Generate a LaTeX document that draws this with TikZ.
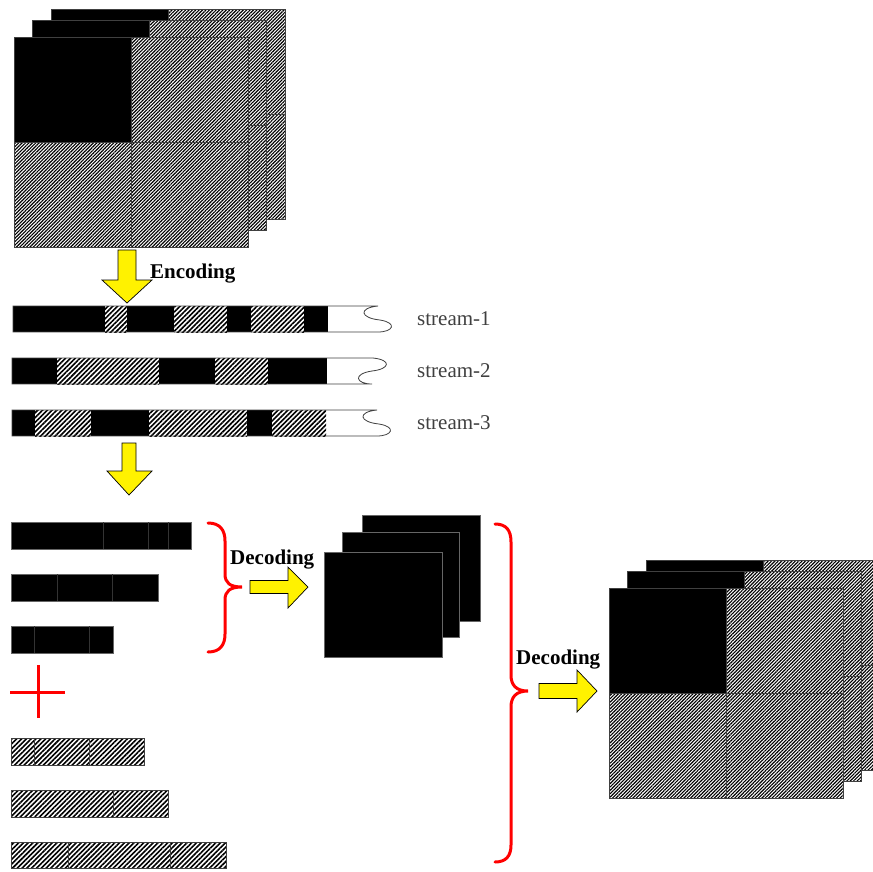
\documentclass[tikz,border=0pt]{standalone}
\usepackage{fontspec}
\setmainfont{Liberation Serif}
\usetikzlibrary{patterns.meta}
\tikzset{
  hatchA/.style={fill=white,postaction={pattern={Lines[angle=45,distance=2.4pt,line width=1.15pt]},pattern color=black}},
  hatchB/.style={fill=white,postaction={pattern={Lines[angle=45,distance=3.4pt,line width=1.6pt]},pattern color=black}},
  blk/.style={fill=black},
  edge/.style={draw=black!75,line width=0.8pt},
  faint/.style={draw=black!80,line width=0.5pt},
  yarrow/.style={fill=yellow,draw=black,line width=0.7pt,line join=miter},
  redbrace/.style={draw=red,line width=3pt,line cap=round},
  lbl/.style={font=\fontsize{21}{25}\selectfont\bfseries,inner sep=0pt},
  slbl/.style={font=\fontsize{21}{25}\selectfont,text=black!75,inner sep=0pt},
}
\newcommand\qlayer[2]{%
  \begin{scope}[shift={(#1,#2)}]
    \path[hatchA] (0,0) rectangle (234,210);
    \fill[black] (0,0) rectangle (117,105);
    \draw[edge] (117,0)--(117,210) (0,105)--(234,105) (0,0) rectangle (234,210);
  \end{scope}}
\newcommand\seg[4]{\path[#4] (#1,#3) rectangle (#2,{#3+26});}
\begin{document}
\begin{tikzpicture}[x=1pt,y=-1pt]
\useasboundingbox (0,0) rectangle (873,871);
\begin{scope}
\clip (0,0) rectangle (873,871);
% ---- top stack
\qlayer{51}{9}
\qlayer{32}{20}
\qlayer{14}{37}
% ---- encoding arrow
\path[yarrow] (118,250)--(136,250)--(136,280)--(152,280)--(127,303)--(102,280)--(118,280)--cycle;
\node[lbl,anchor=base west] (enc) at (150,278) {Encoding};
% ---- streams
% stream 1
\path[fill=white] (13,306)--(378,306) .. controls (358,308) and (360,318) .. (380,320) .. controls (398,323) and (393,332) .. (378,332) -- (13,332)--cycle;
\seg{13}{105}{306}{blk}\seg{105}{127}{306}{hatchB}\seg{127}{174}{306}{blk}\seg{174}{227}{306}{hatchB}
\seg{227}{251}{306}{blk}\seg{251}{304}{306}{hatchB}\seg{304}{328}{306}{blk}
\draw[edge] (13,306)--(378,306) .. controls (358,308) and (360,318) .. (380,320) .. controls (398,323) and (393,332) .. (378,332) -- (13,332)--cycle;
% stream 2
\path[fill=white] (12,358)--(373,358) .. controls (392,360) and (390,369) .. (372,371) .. controls (352,374) and (356,384) .. (372,384) -- (12,384)--cycle;
\seg{12}{57}{358}{blk}\seg{57}{159}{358}{hatchB}\seg{159}{215}{358}{blk}\seg{215}{268}{358}{hatchB}\seg{268}{327}{358}{blk}
\draw[edge] (12,358)--(373,358) .. controls (392,360) and (390,369) .. (372,371) .. controls (352,374) and (356,384) .. (372,384) -- (12,384)--cycle;
% stream 3
\path[fill=white] (12,410)--(377,410) .. controls (357,412) and (359,422) .. (379,424) .. controls (397,427) and (392,436) .. (377,436) -- (12,436)--cycle;
\seg{12}{35}{410}{blk}\seg{35}{91}{410}{hatchB}\seg{91}{149}{410}{blk}\seg{149}{247}{410}{hatchB}
\seg{247}{272}{410}{blk}\seg{272}{326}{410}{hatchB}
\draw[edge] (12,410)--(377,410) .. controls (357,412) and (359,422) .. (379,424) .. controls (397,427) and (392,436) .. (377,436) -- (12,436)--cycle;
\node[slbl,anchor=base west] (s1) at (417,325) {stream-1};
\node[slbl,anchor=base west] (s2) at (417,377) {stream-2};
\node[slbl,anchor=base west] (s3) at (417,429) {stream-3};
% ---- second down arrow
\path[yarrow] (122,443)--(136,443)--(136,471)--(152,471)--(129,495)--(107,471)--(122,471)--cycle;
% ---- black bars
\path[blk,draw=black!60,line width=0.6pt] (11,522) rectangle (191,549);
\draw[faint] (103,522)--(103,549) (148,522)--(148,549) (168,522)--(168,549);
\path[blk,draw=black!60,line width=0.6pt] (11,574) rectangle (158,601);
\draw[faint] (57,574)--(57,601) (112,574)--(112,601);
\path[blk,draw=black!60,line width=0.6pt] (11,626) rectangle (113,653);
\draw[faint] (34,626)--(34,653) (89,626)--(89,653);
% ---- red plus
\draw[draw=red,line width=3pt] (10,692)--(65,692) (38,665)--(38,718);
% ---- hatched bars
\path[hatchB] (11,738) rectangle (144,765);
\draw[edge] (11,738) rectangle (144,765) (34,738)--(34,765) (89,738)--(89,765);
\path[hatchB] (11,790) rectangle (168,817);
\draw[edge] (11,790) rectangle (168,817) (113,790)--(113,817);
\path[hatchB] (11,842) rectangle (226,868);
\draw[edge] (11,842) rectangle (226,868) (68,842)--(68,868) (170,842)--(170,868);
% ---- brace 1
\draw[redbrace] (208,523) .. controls (220,523) and (225,530) .. (225,541) -- (225,574)
  .. controls (225,583) and (230,587) .. (242,587)
  .. controls (230,587) and (225,591) .. (225,600) -- (225,634)
  .. controls (225,645) and (220,652) .. (208,652);
\node[lbl,anchor=base west] (dec1) at (230,564) {Decoding};
\path[yarrow] (250,580.5)--(288,580.5)--(288,567)--(308,587)--(288,608)--(288,593.5)--(250,593.5)--cycle;
% ---- black stack
\path[blk,draw=black!60,line width=0.6pt] (362,515) rectangle (480,621);
\path[blk,draw=black!60,line width=0.6pt] (342,532) rectangle (459,637);
\path[blk,draw=black!60,line width=0.6pt] (324,552) rectangle (442,657);
% ---- brace 2
\draw[redbrace] (495,524) .. controls (506,524) and (511,530) .. (511,542) -- (511,675)
  .. controls (511,685) and (516,691) .. (528,691)
  .. controls (516,691) and (511,697) .. (511,707) -- (511,845)
  .. controls (511,856) and (506,862) .. (495,862);
\node[lbl,anchor=base west] (dec2) at (516,664) {Decoding};
\path[yarrow] (539,683.5)--(577,683.5)--(577,670)--(597,691)--(577,712)--(577,698.5)--(539,698.5)--cycle;
% ---- right stack
\qlayer{646}{560}
\qlayer{627}{571}
\qlayer{609}{588}
\end{scope}
\end{tikzpicture}
\end{document}
